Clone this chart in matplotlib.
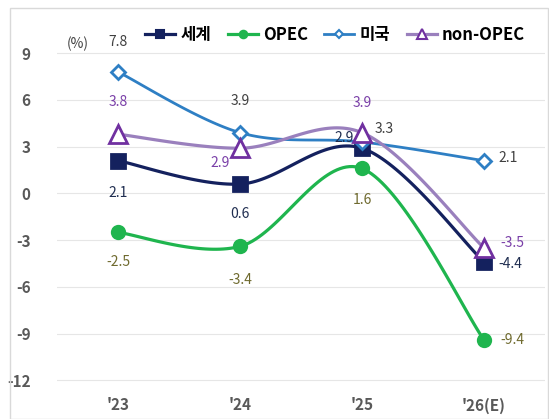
import numpy as np
import matplotlib
matplotlib.use('Agg')
import matplotlib.pyplot as plt
from matplotlib.patches import Rectangle

plt.rcParams['font.family'] = ['Noto Sans CJK KR', 'DejaVu Sans']
plt.rcParams['axes.unicode_minus'] = False

years = ["'23", "'24", "'25", "'26(E)"]
world = [2.1, 0.6, 2.9, -4.4]
opec = [-2.5, -3.4, 1.6, -9.4]
usa = [7.8, 3.9, 3.3, 2.1]
nonopec = [3.8, 2.9, 3.9, -3.5]


def smooth(xs, ys, n=40):
    # catmull-rom style bezier, like excel's smoothed line
    xs = np.asarray(xs, float)
    ys = np.asarray(ys, float)
    px = np.concatenate([[xs[0]], xs, [xs[-1]]])
    py = np.concatenate([[ys[0]], ys, [ys[-1]]])
    ox, oy = [], []
    t = np.linspace(0, 1, n)
    for i in range(1, len(px) - 2):
        p0 = np.array([px[i], py[i]])
        p3 = np.array([px[i + 1], py[i + 1]])
        c1 = p0 + (np.array([px[i + 1], py[i + 1]]) - np.array([px[i - 1], py[i - 1]])) / 6
        c2 = p3 - (np.array([px[i + 2], py[i + 2]]) - np.array([px[i], py[i]])) / 6
        b = ((1 - t) ** 3)[:, None] * p0 + (3 * (1 - t) ** 2 * t)[:, None] * c1 \
            + (3 * (1 - t) * t ** 2)[:, None] * c2 + (t ** 3)[:, None] * p3
        ox.extend(b[:, 0])
        oy.extend(b[:, 1])
    return ox, oy


fig = plt.figure(figsize=(5.49, 4.19), dpi=100)
fig.patches.append(Rectangle((10 / 549, 0), 538 / 549, 411 / 419, transform=fig.transFigure,
                             fill=False, ec='#D9D9D9', lw=1))
ax = fig.add_axes([57 / 549, 23 / 419, 488 / 549, 374 / 419])
x = np.arange(len(years))

c_world = '#14215E'
c_opec = '#1FB54E'
c_us = '#2E7FC4'
c_non = '#9A80BD'

series = [
    ('세계', world, c_world, 's', c_world, 10, 2.3),
    ('OPEC', opec, c_opec, 'o', c_opec, 9, 2.3),
    ('미국', usa, c_us, 'D', 'white', 7.5, 2.0),
    ('non-OPEC', nonopec, c_non, '^', 'white', 13, 2.3),
]
for name, vals, col, mk, fc, ms, lw in series:
    sx, sy = smooth(x, vals)
    ax.plot(sx, sy, color=col, lw=lw, zorder=2)
    ax.plot(x, vals, ls='none', marker=mk, ms=ms, mfc=fc,
            mec=('#7030A0' if name == 'non-OPEC' else col), mew=2, zorder=3)
    ax.plot([], [], color=col, lw=lw, marker=mk, ms=ms * 0.6, mfc=fc,
            mec=('#7030A0' if name == 'non-OPEC' else col), mew=1.5, label=name)

# data labels: offsets in pixels
lab_world = [(0, -32), (0, -30), (-18, 10), (26, -2)]
lab_opec = [(0, -30), (0, -34), (0, -32), (28, 0)]
lab_us = [(0, 30), (0, 32), (22, 13), (24, 3)]
lab_non = [(0, 32), (-20, -15), (0, 30), (28, 5)]
for vals, col, offs in [(world, '#1F2D50', lab_world), (opec, '#6F6A2E', lab_opec),
                        (usa, '#404040', lab_us), (nonopec, '#7A3FA8', lab_non)]:
    for xi, v, off in zip(x, vals, offs):
        ax.annotate(f'{v:.1f}', (xi, v), xytext=off, textcoords='offset pixels',
                    ha='center', va='center', fontsize=10, color=col)

ax.set_xlim(-0.5, 3.5)
ax.set_ylim(-13, 11)
ax.set_yticks(np.arange(-12, 10, 3))
ax.set_xticks(x)
ax.set_xticklabels(years)
ax.grid(axis='y', color='#E6E6E6', lw=0.8)
ax.set_axisbelow(True)
for s in ax.spines.values():
    s.set_visible(False)
ax.tick_params(length=0, colors='#595959', labelsize=11, pad=1)
ax.tick_params(axis='y', pad=19)
for lbl in ax.get_xticklabels() + ax.get_yticklabels():
    lbl.set_fontweight('bold')
ax.text(-0.33, 9.6, '(%)', fontsize=10, color='#404040', ha='center', va='center')

ax.legend(loc='upper center', bbox_to_anchor=(0.57, 1.03), ncol=4, frameon=False,
          prop={'weight': 'bold', 'size': 12}, handlelength=1.8, columnspacing=1.0,
          handletextpad=0.3)

plt.savefig('out.png', dpi=100)
plt.close()
